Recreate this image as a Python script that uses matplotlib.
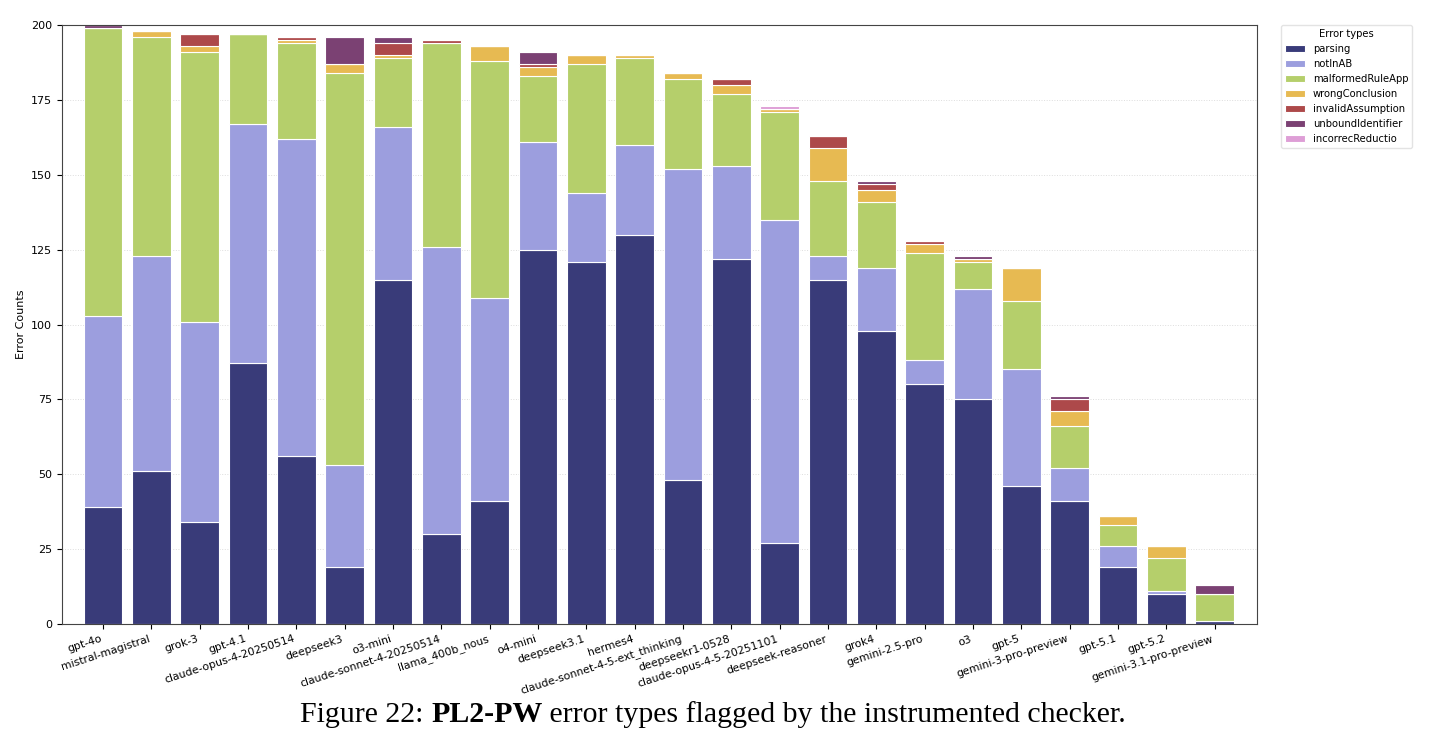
import numpy as np
import matplotlib
matplotlib.use("Agg")
import matplotlib.pyplot as plt

models = ["gpt-4o", "mistral-magistral", "grok-3", "gpt-4.1", "claude-opus-4-20250514",
          "deepseek3", "o3-mini", "claude-sonnet-4-20250514", "llama_400b_nous", "o4-mini",
          "deepseek3.1", "hermes4", "claude-sonnet-4-5-ext_thinking", "deepseekr1-0528",
          "claude-opus-4-5-20251101", "deepseek-reasoner", "grok4", "gemini-2.5-pro", "o3",
          "gpt-5", "gemini-3-pro-preview", "gpt-5.1", "gpt-5.2", "gemini-3.1-pro-preview"]

parsing           = [39, 51, 34, 87, 56, 19, 115, 30, 41, 125, 121, 130, 48, 122, 27, 115, 98, 80, 75, 46, 41, 19, 10, 1]
notInAB           = [64, 72, 67, 80, 106, 34, 51, 96, 68, 36, 23, 30, 104, 31, 108, 8, 21, 8, 37, 39, 11, 7, 1, 0]
malformedRuleApp  = [96, 73, 90, 30, 32, 131, 23, 68, 79, 22, 43, 29, 30, 24, 36, 25, 22, 36, 9, 23, 14, 7, 11, 9]
wrongConclusion   = [0, 2, 2, 0, 1, 3, 1, 0, 5, 3, 3, 1, 2, 3, 1, 11, 4, 3, 1, 11, 5, 3, 4, 0]
invalidAssumption = [0, 0, 4, 0, 1, 0, 4, 1, 0, 1, 0, 0, 0, 2, 0, 4, 2, 1, 0, 0, 4, 0, 0, 0]
unboundIdentifier = [1, 0, 0, 0, 0, 9, 2, 0, 0, 4, 0, 0, 0, 0, 0, 0, 1, 0, 1, 0, 1, 0, 0, 3]
incorrecReductio  = [0, 0, 0, 0, 0, 0, 0, 0, 0, 0, 0, 0, 0, 0, 1, 0, 0, 0, 0, 0, 0, 0, 0, 0]

series = [("parsing", parsing), ("notInAB", notInAB), ("malformedRuleApp", malformedRuleApp),
          ("wrongConclusion", wrongConclusion), ("invalidAssumption", invalidAssumption),
          ("unboundIdentifier", unboundIdentifier), ("incorrecReductio", incorrecReductio)]
colors = ["#393b79", "#9c9ede", "#b5cf6b", "#e7ba52", "#ad494a", "#7b4173", "#de9ed6"]

fig = plt.figure(figsize=(14.36, 7.54), dpi=100)
ax = fig.add_axes([0.0432, 0.1724, 0.832, 0.7944])

x = np.arange(len(models))
bottom = np.zeros(len(models))
for (name, vals), c in zip(series, colors):
    vals = np.array(vals, dtype=float)
    ax.bar(x, vals, 0.8, bottom=bottom, color=c, edgecolor="white", linewidth=0.8,
           label=name, zorder=2)
    bottom += vals

ax.set_ylim(0, 200)
ax.set_xlim(-0.85, len(models) - 0.13)
ax.set_yticks(np.arange(0, 201, 25))
ax.set_xticks(x)
ax.set_xticklabels(models, rotation=18, ha="right", fontsize=7.8)
ax.tick_params(axis="y", labelsize=8)
ax.set_ylabel("Error Counts", fontsize=8)
ax.yaxis.grid(True, linestyle=":", color="#dddddd", linewidth=0.7, zorder=0)
ax.set_axisbelow(True)
for s in ax.spines.values():
    s.set_color("#444444")

leg = ax.legend(title="Error types", loc="upper left", bbox_to_anchor=(1.02, 1.0),
                borderaxespad=0, fontsize=7.2, title_fontsize=7.2, frameon=True)
leg.get_frame().set_edgecolor("#dddddd")

# caption below the chart
cap = {"family": "Liberation Serif", "size": 21.5}
y0 = 0.042
t1 = fig.text(0.209, y0, "Figure 22: ", va="baseline", ha="left", **cap)
fig.canvas.draw()
r = fig.canvas.get_renderer()
bb1 = t1.get_window_extent(r)
t2 = fig.text(bb1.x1 / fig.bbox.width, y0, "PL2-PW", weight="bold", va="baseline", ha="left", **cap)
fig.canvas.draw()
bb2 = t2.get_window_extent(r)
fig.text(bb2.x1 / fig.bbox.width, y0, " error types flagged by the instrumented checker.",
         va="baseline", ha="left", **cap)

fig.savefig("out.png", dpi=100)
